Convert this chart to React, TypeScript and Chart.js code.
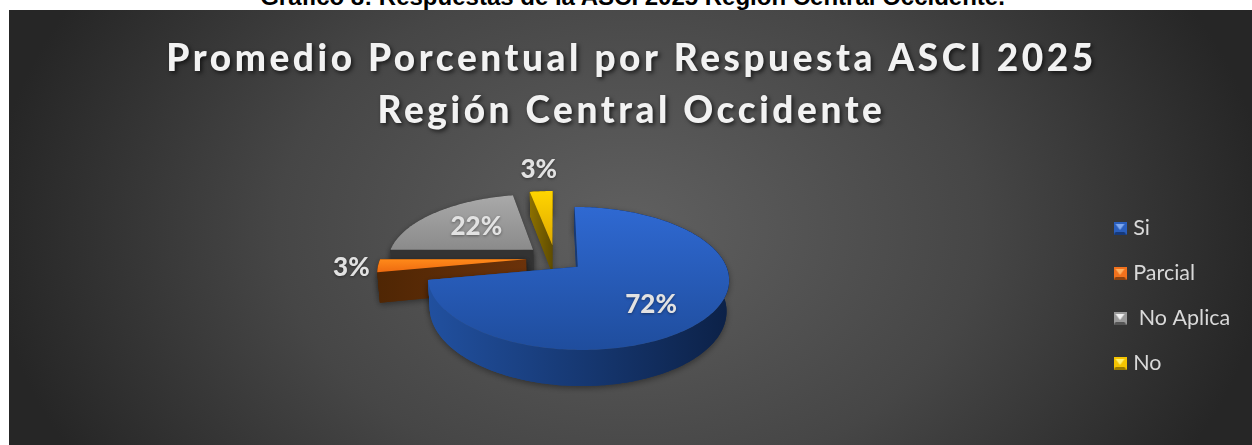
import React, { useEffect, useRef } from "react";
import { Chart, registerables, PieController, ArcElement } from "chart.js";

// ---- data ----
const categories = ["Si", "Parcial", " No Aplica", "No"];
const values = [72, 3, 22, 3];
const titleLines = ["Promedio Porcentual por Respuesta ASCI 2025", "Región Central Occidente"];
const caption = "Gráfico 8: Respuestas de la ASCI 2025 Región Central Occidente.";

// ---- styles ----
const baseColors = ["#2a5fbe", "#f2711c", "#9a9a9a", "#f5c400"];
const topLight = ["#2f69d2", "#ff8a1a", "#a9a9a9", "#ffd500"];
const topDark = ["#1f4d9d", "#ee6a10", "#8b8b8b", "#dfa900"];
const wallLeft = ["#21509f", "#4f2604", "#333333", "#8c7000"];
const wallRight = ["#0c2147", "#6b320a", "#333333", "#5f4c00"];
const markerLight = ["#7fa8ee", "#ffb060", "#f2f2f2", "#fff070"];
const markerDark = ["#173a7a", "#8a4210", "#555555", "#9a7a00"];
const labelRadius = [0.67, 1.19, 0.62, 1.5];
const labelNudgeX = [-11, 2, 6, 2];
const labelNudgeY = [6, 1, 1, 0];

// view of the tilted pie
const CX = 555, CY = 258, RX = 145.5, TILT = 66.7, PERSP = 0.162, DEPTH = 29.5, SHRINK = 0.985;
const EXPLODE = 29;

function topPt(u: number, v: number) {
  const w = 1 - PERSP * v;
  return [CX + (RX * u) / w, CY + (TILT * v) / w];
}
function botPt(u: number, v: number) {
  const w = 1 - PERSP * v;
  return [CX + (RX * SHRINK * u) / w, CY + (TILT * v) / w + DEPTH / w];
}
function poly(ctx: CanvasRenderingContext2D, pts: number[][]) {
  ctx.beginPath();
  pts.forEach((p, i) => (i ? ctx.lineTo(p[0], p[1]) : ctx.moveTo(p[0], p[1])));
  ctx.closePath();
}

class Arc3D extends ArcElement {
  static id = "arc3d";
  draw(ctx: CanvasRenderingContext2D) {
    const { startAngle, endAngle } = (this as any).getProps(["startAngle", "endAngle"], true);
    const idx = (this as any).$context.dataIndex as number;
    const off = ((this as any).options.offset as number) / RX;
    const mid = (startAngle + endAngle) / 2;
    const ou = off * Math.cos(mid), ov = off * Math.sin(mid);
    const n = Math.max(2, Math.ceil((endAngle - startAngle) / (Math.PI / 180)));
    const rim: number[][] = [];
    for (let i = 0; i <= n; i++) {
      const a = startAngle + ((endAngle - startAngle) * i) / n;
      rim.push([ou + Math.cos(a), ov + Math.sin(a)]);
    }
    const apexT = topPt(ou, ov), apexB = botPt(ou, ov);
    const rimT = rim.map((p) => topPt(p[0], p[1]));
    const rimB = rim.map((p) => botPt(p[0], p[1]));
    const xs = rimT.concat([apexT]).map((p) => p[0]);
    const ys = rimT.concat([apexT]).map((p) => p[1]);
    const minX = Math.min(...xs), maxX = Math.max(...xs), minY = Math.min(...ys), maxY = Math.max(...ys);

    const walls = () => {
      poly(ctx, [apexT, rimT[0], rimB[0], apexB]);
      ctx.fill();
      poly(ctx, [apexT, rimT[n], rimB[n], apexB]);
      ctx.fill();
      poly(ctx, rimT.concat(rimB.slice().reverse()));
      ctx.fill();
    };

    ctx.save();
    const wall = ctx.createLinearGradient(minX, 0, maxX, 0);
    wall.addColorStop(0, wallLeft[idx]);
    wall.addColorStop(1, wallRight[idx]);
    ctx.fillStyle = wall;
    ctx.shadowColor = "rgba(0,0,0,0.4)";
    ctx.shadowBlur = 6;
    ctx.shadowOffsetY = 2;
    walls();
    ctx.shadowColor = "transparent";
    walls();
    // top face
    const g = ctx.createLinearGradient(0, minY, 0, maxY);
    g.addColorStop(0, topLight[idx]);
    g.addColorStop(1, topDark[idx]);
    ctx.fillStyle = g;
    poly(ctx, [apexT].concat(rimT));
    ctx.fill();
    ctx.restore();
  }
}

class Pie3DController extends PieController {
  static id = "pie3d";
  static defaults = { dataElementType: "arc3d" };
  draw() {
    const ctx = (this as any).chart.ctx;
    const data = (this as any)._cachedMeta.data;
    for (let i = data.length - 1; i >= 0; i--) data[i].draw(ctx);
  }
}

Chart.register(...registerables, Arc3D as any, Pie3DController as any);

function marker(i: number) {
  const c = document.createElement("canvas");
  c.width = 13;
  c.height = 13;
  const x = c.getContext("2d")!;
  x.fillStyle = baseColors[i];
  x.fillRect(0, 0, 13, 13);
  x.fillStyle = markerDark[i];
  x.beginPath();
  x.moveTo(0, 13);
  x.lineTo(13, 13);
  x.lineTo(11, 10);
  x.lineTo(2, 10);
  x.closePath();
  x.fill();
  x.fillStyle = markerLight[i];
  x.beginPath();
  x.moveTo(2, 2);
  x.lineTo(11, 2);
  x.lineTo(6.5, 8);
  x.closePath();
  x.fill();
  return c;
}

const backgroundPlugin = {
  id: "panel",
  afterLayout(chart: any) {
    const lg = chart.legend;
    lg.left = 1094;
    lg.right = 1252;
    lg.top = 146;
    lg.bottom = 446;
  },
  beforeDraw(chart: any) {
    const { ctx, width, height } = chart;
    ctx.save();
    ctx.beginPath();
    ctx.rect(9, 10, width - 9, height - 10);
    ctx.clip();
    ctx.translate(630, 228);
    ctx.scale(1, 0.72);
    const g = ctx.createRadialGradient(0, 0, 0, 0, 0, 640);
    g.addColorStop(0, "#606060");
    g.addColorStop(0.55, "#464646");
    g.addColorStop(1, "#262626");
    ctx.fillStyle = g;
    ctx.fillRect(-700, -400, 1400, 800);
    ctx.restore();
    const t = chart.titleBlock;
    if (t && !t.__spaced) {
      t.__spaced = true;
      const orig = t.draw.bind(t);
      t.draw = () => {
        ctx.save();
        (ctx as any).letterSpacing = "3.55px";
        ctx.shadowColor = "rgba(0,0,0,0.65)";
        ctx.shadowBlur = 4;
        ctx.shadowOffsetX = 2;
        ctx.shadowOffsetY = 2;
        orig();
        ctx.restore();
      };
    }
  },
};

const labelPlugin = {
  id: "sliceLabels",
  afterDatasetsDraw(chart: any) {
    const { ctx } = chart;
    const meta = chart.getDatasetMeta(0);
    ctx.save();
    ctx.font = "900 26px Lato";
    ctx.fillStyle = "#e2e2e2";
    ctx.textAlign = "center";
    ctx.textBaseline = "middle";
    ctx.shadowColor = "rgba(0,0,0,0.4)";
    ctx.shadowBlur = 3;
    ctx.shadowOffsetY = 1;
    meta.data.forEach((el: any, i: number) => {
      const mid = (el.startAngle + el.endAngle) / 2;
      const off = el.options.offset / RX;
      const r = off + labelRadius[i];
      const p = topPt(r * Math.cos(mid), r * Math.sin(mid));
      ctx.fillText(`${values[i]}%`, p[0] + labelNudgeX[i], p[1] + labelNudgeY[i]);
    });
    ctx.restore();
  },
};

export default function App() {
  const ref = useRef<HTMLCanvasElement>(null);
  useEffect(() => {
    const chart = new Chart(ref.current!, {
      type: "pie3d" as any,
      data: {
        labels: categories,
        datasets: [{ data: values, backgroundColor: baseColors, offset: EXPLODE, borderWidth: 0 }],
      },
      options: {
        responsive: false,
        animation: false,
        layout: { padding: { left: 11, top: 10, right: 0, bottom: 0 } },
        plugins: {
          tooltip: { enabled: false },
          title: {
            display: true,
            text: titleLines,
            color: "#f2f2f2",
            font: { family: "Lato", size: 37, weight: "900", lineHeight: 1.41 },
            padding: { top: 23, bottom: 8 },
          },
          legend: {
            display: true,
            position: "right",
            labels: {
              color: "#d9d9d9",
              font: { family: "Lato", size: 21.5, lineHeight: 1.2 },
              usePointStyle: true,
              boxWidth: 5,
              boxHeight: 13,
              padding: 23.5,
              generateLabels: () =>
                categories.map((text, i) => ({
                  text,
                  fillStyle: baseColors[i],
                  strokeStyle: baseColors[i],
                  lineWidth: 0,
                  pointStyle: marker(i),
                  hidden: false,
                  index: i,
                  fontColor: "#d9d9d9",
                })),
            },
          },
        },
      } as any,
      plugins: [backgroundPlugin, labelPlugin],
    });
    return () => chart.destroy();
  }, []);
  return (
    <div style={{ position: "fixed", left: 0, top: 0, width: 1252, height: 445, overflow: "hidden", background: "#fff" }}>
      <div
        style={{
          position: "absolute",
          left: 0,
          width: 1265,
          top: -17.5,
          textAlign: "center",
          font: "bold 24px 'Liberation Sans'",
          lineHeight: "28px",
          color: "#000",
          whiteSpace: "nowrap",
        }}
      >
        {caption}
      </div>
      <canvas ref={ref} width={1252} height={445} style={{ position: "absolute", left: 0, top: 0, display: "block" }} />
    </div>
  );
}
